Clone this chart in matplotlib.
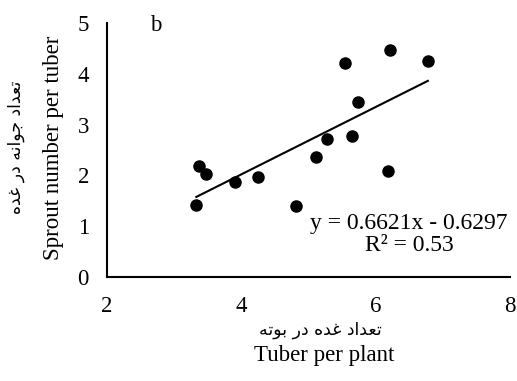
import numpy as np
import matplotlib.pyplot as plt

# tuber per plant vs sprout number per tuber
tuber = np.array([3.33, 3.37, 3.47, 3.91, 4.25, 4.81, 5.11, 5.27, 5.54, 5.65, 5.74, 6.18, 6.22, 6.78])
sprout = np.array([1.42, 2.19, 2.03, 1.86, 1.96, 1.40, 2.36, 2.72, 4.21, 2.78, 3.44, 2.09, 4.47, 4.24])
slope, icpt = 0.6621, -0.6297
eq_text = 'y = 0.6621x - 0.6297\nR² = 0.53'

xlab_en = 'Tuber per plant'
ylab_en = 'Sprout number per tuber'
xlab_fa = 'تعداد غده در بوته'
ylab_fa = 'تعداد جوانه در غده'

# matplotlib has no arabic shaping, so pick presentation forms by hand
forms = {
    'ت': (0xFE95, 0xFE96, 0xFE97, 0xFE98),
    'ع': (0xFEC9, 0xFECA, 0xFECB, 0xFECC),
    'غ': (0xFECD, 0xFECE, 0xFECF, 0xFED0),
    'ج': (0xFE9D, 0xFE9E, 0xFE9F, 0xFEA0),
    'ن': (0xFEE5, 0xFEE6, 0xFEE7, 0xFEE8),
    'ه': (0xFEE9, 0xFEEA, 0xFEEB, 0xFEEC),
    'ب': (0xFE8F, 0xFE90, 0xFE91, 0xFE92),
    'د': (0xFEA9, 0xFEAA, None, None),
    'ا': (0xFE8D, 0xFE8E, None, None),
    'ر': (0xFEAD, 0xFEAE, None, None),
    'و': (0xFEED, 0xFEEE, None, None),
}

def joins_left(c):
    return c in forms and forms[c][2] is not None

def shape(s):
    out = []
    for i, c in enumerate(s):
        if c not in forms:
            out.append(c)
            continue
        prev = s[i-1] if i > 0 else ' '
        nxt = s[i+1] if i < len(s)-1 else ' '
        a = joins_left(prev)
        b = joins_left(c) and nxt in forms
        if a and b:
            k = 3
        elif a:
            k = 1
        elif b:
            k = 2
        else:
            k = 0
        out.append(chr(forms[c][k]))
    return ''.join(out[::-1])

plt.rcParams['font.family'] = 'Liberation Serif'
fs = 16.5
fig = plt.figure(figsize=(5.17, 3.81), dpi=100)
ax = fig.add_axes([0.207, 0.273, 0.779, 0.667])

ax.scatter(tuber, sprout, s=64, color='k', zorder=3)
xf = np.array([tuber.min(), tuber.max()])
ax.plot(xf, slope*xf + icpt, color='k', lw=1.5)

ax.set_xlim(2, 8)
ax.set_ylim(0, 5)
ax.set_xticks([2, 4, 6, 8])
ax.set_yticks([0, 1, 2, 3, 4, 5])
for s in ['top', 'right']:
    ax.spines[s].set_visible(False)
for s in ['left', 'bottom']:
    ax.spines[s].set_linewidth(1.5)
ax.tick_params(axis='x', length=0, pad=14, labelsize=fs)
ax.tick_params(axis='y', length=0, pad=13, labelsize=fs)

ax.text(0.107, 1.03, 'b', transform=ax.transAxes, fontsize=fs, va='top', ha='left')
ax.text(0.75, 0.167, eq_text, transform=ax.transAxes, fontsize=17,
        ha='center', va='center', multialignment='center', linespacing=1.05)

fig.text(0.103, 0.612, ylab_en, rotation=90, fontsize=fs, ha='center', va='center')
fig.text(0.031, 0.614, shape(ylab_fa), rotation=90, fontsize=12.5, ha='center', va='center',
         family='DejaVu Sans')
fig.text(0.619, 0.134, shape(xlab_fa), fontsize=12.5, ha='center', va='center',
         family='DejaVu Sans')
fig.text(0.627, 0.068, xlab_en, fontsize=fs, ha='center', va='center')

plt.savefig('out.png', dpi=100)
